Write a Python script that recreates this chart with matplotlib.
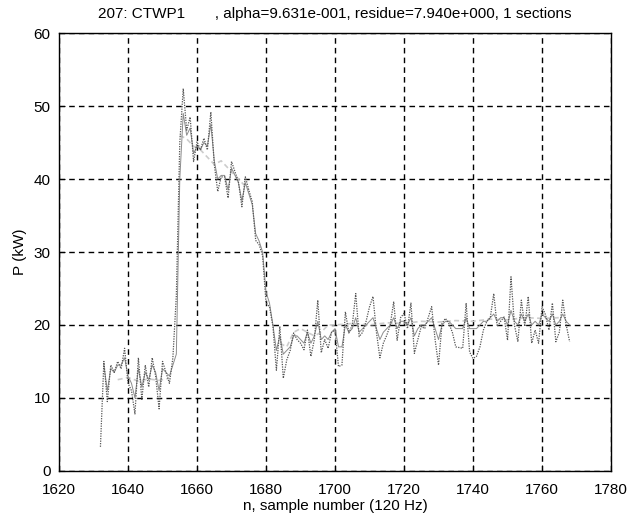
import numpy as np
import matplotlib
matplotlib.use("Agg")
import matplotlib.pyplot as plt

plt.rcParams['font.family'] = ['Liberation Sans', 'DejaVu Sans']

# measured power, one value per sample (n = 1632 .. 1768)
n_start = 1632
measured = [
    3.3, 15.0, 9.5, 14.5, 13.5, 15.0, 14.0, 16.8, 12.0, 11.0,
    7.8, 15.5, 9.8, 14.5, 11.5, 15.5, 13.0, 8.5, 15.0, 13.5,
    12.0, 15.5, 24.0, 45.0, 52.4, 46.7, 48.5, 42.4, 45.1, 44.0,
    45.6, 44.0, 49.2, 42.0, 38.3, 40.3, 40.3, 37.4, 42.4, 41.0,
    39.6, 36.2, 40.3, 38.5, 36.9, 31.6, 31.0, 29.5, 23.0, 22.5,
    19.8, 13.8, 19.8, 12.7, 15.2, 16.5, 18.9, 18.0, 17.5, 16.6,
    19.3, 15.7, 18.0, 23.4, 16.2, 18.0, 16.8, 19.0, 19.3, 14.3,
    14.5, 21.8, 18.9, 20.0, 24.3, 18.4, 19.0, 20.5, 22.5, 23.9,
    19.0, 15.5, 17.5, 18.6, 20.0, 23.2, 17.9, 21.0, 21.6, 19.5,
    23.0, 16.1, 18.0, 19.8, 19.5, 21.0, 22.5, 18.0, 14.5, 20.2,
    20.9, 20.2, 19.0, 17.0, 16.9, 16.8, 23.0, 16.3, 15.4, 15.7,
    17.0, 19.3, 20.5, 21.0, 24.3, 19.8, 20.5, 21.1, 17.9, 26.6,
    20.0, 17.7, 23.4, 19.8, 23.9, 17.5, 19.3, 17.5, 22.5, 21.4,
    19.3, 23.0, 17.7, 19.0, 23.4, 20.0, 17.7,
]

# model output (n = 1633 .. 1768)
model_start = 1633
model = [
    14.5, 11.0, 14.0, 13.5, 14.5, 14.5, 15.5, 13.0, 12.0, 10.0,
    14.0, 11.5, 13.5, 12.5, 14.5, 13.5, 11.0, 14.0, 13.5, 13.0,
    14.5, 16.0, 40.0, 49.0, 46.0, 47.0, 43.5, 44.5, 44.0, 45.0,
    44.5, 47.5, 42.5, 40.0, 40.5, 40.5, 38.5, 41.5, 40.5, 39.5,
    37.0, 39.5, 38.0, 36.5, 32.5, 31.5, 30.0, 24.5, 23.0, 20.0,
    16.5, 18.5, 16.0, 16.5, 17.0, 18.5, 18.5, 18.0, 17.5, 19.0,
    17.5, 18.5, 20.5, 18.0, 18.5, 18.0, 19.0, 19.5, 17.0, 17.0,
    20.0, 19.0, 19.5, 21.0, 19.0, 19.5, 20.0, 20.5, 21.0, 19.5,
    18.0, 19.0, 19.5, 20.0, 21.0, 19.5, 20.5, 20.5, 20.0, 21.0,
    18.5, 19.5, 20.0, 20.0, 20.5, 21.0, 19.5, 18.0, 20.0, 20.5,
    20.5, 20.0, 19.5, 19.5, 19.5, 21.0, 19.5, 19.5, 19.5, 20.0,
    20.5, 20.5, 21.0, 21.5, 20.5, 21.0, 21.0, 20.0, 22.0, 20.5,
    20.0, 21.5, 20.5, 21.5, 20.0, 20.5, 20.0, 21.5, 21.0, 20.5,
    21.5, 20.0, 20.5, 21.5, 20.5, 20.0,
]

# section fit (gaps where not defined)
fit_n = [1637, 1640, 1643, 1646, 1649, 1652, np.nan,
         1655, 1657, 1659, 1661, 1663, 1665, 1667, 1669, 1671, 1673, 1675, np.nan,
         1684, 1686, 1688, 1690, 1692, 1694, 1696, 1698, 1700, 1705, 1710,
         1715, 1720, 1725, 1730, 1735, 1740, 1745, 1750, 1755, 1760, 1765]
fit_v = [12.5, 12.8, 12.3, 12.6, 12.4, 12.7, np.nan,
         46.0, 45.5, 44.5, 44.0, 43.0, 42.0, 42.5, 41.5, 40.5, 39.5, 38.5, np.nan,
         17.5, 17.0, 19.0, 19.5, 19.0, 18.5, 19.0, 20.0, 20.0, 20.2, 20.0,
         20.3, 20.2, 20.5, 20.4, 20.6, 20.5, 20.8, 20.7, 21.0, 20.9, 21.0]

title = "207: CTWP1       , alpha=9.631e-001, residue=7.940e+000, 1 sections"

n_meas = np.arange(n_start, n_start + len(measured))
n_model = np.arange(model_start, model_start + len(model))

fig = plt.figure(figsize=(6.28, 5.18), dpi=100)
ax = fig.add_axes([0.094, 0.091, 0.879, 0.845])

ax.plot(fit_n, fit_v, color='#cccccc', linestyle=(0, (3, 2)), linewidth=1.2)
ax.plot(n_model, model, color='#8c8c8c', linewidth=0.7)
ax.plot(n_meas, measured, color='#555555', linestyle=(0, (1, 1)), linewidth=0.9)

ax.set_xlim(1620, 1780)
ax.set_ylim(0, 60)
ax.set_xticks(np.arange(1620, 1781, 20))
ax.set_yticks(np.arange(0, 61, 10))
ax.grid(True, color='black', linestyle=(0, (4, 3)), linewidth=1.0)
ax.tick_params(direction='in', labelsize=11, length=4, colors='black')
ax.tick_params(axis='x', pad=9)
ax.tick_params(axis='y', pad=6)
for s in ax.spines.values():
    s.set_linewidth(1.0)

ax.set_xlabel("n, sample number (120 Hz)", fontsize=11, labelpad=1)
ax.set_ylabel("P (kW)", fontsize=11, labelpad=5)
ax.set_title(title, fontsize=11, pad=11)

fig.savefig("out.png", dpi=100)
